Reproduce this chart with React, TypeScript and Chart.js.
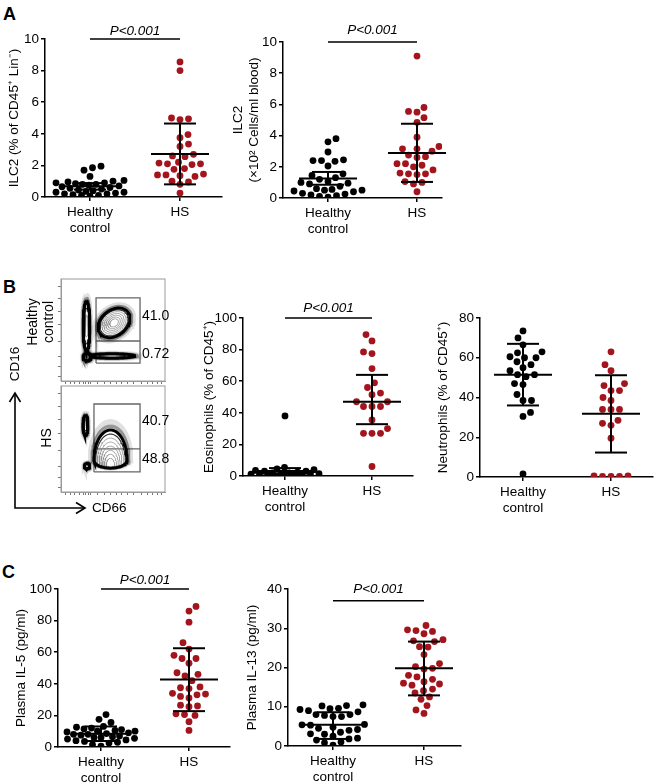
import React, { useEffect, useRef } from 'react';
import { Chart, registerables } from 'chart.js';
Chart.register(...registerables);

const FONT = '"Liberation Sans", Arial, Helvetica, sans-serif';
const RED = '#a3141d';
const FS = 13.5;

const groupLabels = [['Healthy', 'control'], ['HS']];
const pValueText = 'P<0.001';

// ---- A: ILC2 (% of CD45+ Lin-)
const ilc2PctHealthy = [1.95, 1.85, 1.7, 1.3, 1.05, 1.0, 0.95, 0.9, 0.9, 0.85, 0.8, 0.8, 0.75, 0.7, 0.65, 0.6, 0.55, 0.5, 0.45, 0.4, 0.35, 0.3, 0.3, 0.25, 0.2, 0.2, 0.15, 0.1, 0.1, 0.05];
const ilc2PctHS = [8.55, 8.0, 5.0, 4.95, 4.9, 3.95, 3.75, 3.35, 3.2, 2.7, 2.6, 2.55, 2.2, 2.15, 2.1, 2.1, 2.05, 1.8, 1.75, 1.45, 1.4, 1.4, 1.35, 1.3, 1.0, 0.95, 0.8, 0.25];
const ilc2PctMean = [0.68, 2.72];
const ilc2PctLow = [0.47, 0.8];
const ilc2PctHigh = [0.88, 4.65];

// ---- A: ILC2 (x10^2 cells/ml blood)
const ilc2CntHealthy = [3.8, 3.6, 2.95, 2.45, 2.4, 2.4, 2.35, 2.05, 1.55, 1.45, 1.3, 1.2, 1.05, 1.0, 0.95, 0.9, 0.75, 0.6, 0.55, 0.5, 0.5, 0.45, 0.4, 0.3, 0.25, 0.2, 0.15, 0.1, 0.05];
const ilc2CntHS = [9.1, 5.8, 5.55, 5.5, 5.15, 4.85, 3.9, 3.3, 3.15, 3.15, 3.0, 2.75, 2.65, 2.6, 2.2, 2.2, 2.1, 2.0, 1.8, 1.6, 1.55, 1.55, 1.5, 1.05, 1.0, 0.9, 0.4];
const ilc2CntMean = [1.25, 2.88];
const ilc2CntLow = [0.85, 1.03];
const ilc2CntHigh = [1.67, 4.76];

// ---- B: Eosinophils
const eosHealthy = [38, 5.5, 4.5, 4, 3.5, 3, 3, 2.5, 2, 2, 1.5, 1.5, 1.2, 1, 1, 0.8, 0.5, 0.5, 0.3, 0.2];
const eosHS = [89.5, 85.5, 78.5, 77.5, 68, 59, 56, 52.5, 51.5, 47, 47, 44, 44, 44, 35.5, 30, 27, 27, 27, 6];
const eosMean = [3.2, 47];
const eosLow = [1.3, 32.8];
const eosHigh = [5.0, 64];

// ---- B: Neutrophils
const neuHealthy = [73.5, 70, 66.5, 63, 62.5, 60, 60.5, 60, 58, 56.5, 55, 53.5, 51.5, 51.5, 50.5, 47, 46.5, 41.5, 38.5, 38.5, 32.5, 30.5, 1.5];
const neuHS = [63, 56.5, 53.5, 46, 47, 43.5, 43.5, 40, 38.5, 34, 34, 34, 28.5, 26, 27, 19.5, 0.5, 0.3, 0.3, 0.3, 0.6];
const neuMean = [51.5, 31.8];
const neuLow = [36, 12.3];
const neuHigh = [67, 51.2];

// ---- C: Plasma IL-5
const il5Healthy = [20.5, 17.5, 15.5, 13, 12.5, 12, 11.5, 11, 10.5, 10, 10, 9.5, 9, 8.5, 8, 8, 7.5, 7, 6.5, 6, 6, 5.5, 5, 4.5, 4, 3.5, 3, 2.5, 1.5, 0.5];
const il5HS = [89, 86, 79, 66, 62, 58, 56, 56, 53, 47, 46, 45, 42, 38, 37.5, 37, 34, 33.5, 33, 32, 31, 26.5, 26, 25.5, 21, 20, 20.5, 16, 10.5];
const il5Mean = [8.4, 42.7];
const il5Low = [3.8, 22.7];
const il5High = [13, 62.5];

// ---- C: Plasma IL-13
const il13Healthy = [10.5, 10.3, 10.2, 9.6, 9.5, 9.3, 9, 8.7, 8, 8, 7.8, 7.5, 7.5, 4.8, 4.2, 5.5, 5.4, 5.3, 4.5, 4, 3.5, 3.1, 3, 2.5, 2, 1.8, 1.5, 1, 0.8, 0.2];
const il13HS = [30.7, 29.6, 29.4, 29.2, 28.6, 27.1, 26.8, 26.6, 25.3, 25.2, 23.3, 21, 20.2, 19.8, 19.6, 18, 17.6, 17, 16.4, 16, 15.8, 15.5, 14.5, 14.1, 13.5, 12.5, 11.9, 10.3, 9.2, 8.3];
const il13Mean = [5.4, 19.8];
const il13Low = [1.8, 12.9];
const il13High = [8.6, 26.6];

// ---- B: flow cytometry (arbitrary 0-100 display units)
const flowHealthyGate = [33.7, 76, 17.6, 39.2, 81.4]; // xLeft, xRight, yBottom, yDivider, yTop
const flowHSGate = [31.7, 76, 18.9, 40.6, 83];
const flowHealthyPct = ['41.0', '0.72'];
const flowHSPct = ['40.7', '48.8'];
// populations: cx, cy, rx, ryTop, ryBottom, rotationDeg, rings, anchorBottom
const flowHealthyPops = [
  [51, 57, 17, 12.5, 12.5, 40, 7, 0],
  [24.5, 54, 3.2, 24.5, 24.5, 0, 3, 0],
  [25, 23.5, 3.8, 3.8, 3.8, 0, 3, 0],
  [49, 24.5, 22, 2.2, 2.2, 0, 2, 0],
];
const flowHSPops = [
  [47.6, 30, 16, 28.5, 7.5, 0, 8, 1],
  [23.5, 63, 2.4, 9.4, 9.4, 0, 2, 0],
  [25, 24.5, 2.6, 2.6, 2.6, 0, 1, 0],
];
const flowXTicks = [4, 9, 13, 18, 22, 24, 26, 28, 35, 42, 48, 53, 58, 64, 70, 77, 83, 88, 93, 97];
const flowYTicks = [4, 14, 24, 39, 55, 68, 81, 93];

function beeswarm(pys: number[], d: number, maxW: number): number[] {
  const order = pys.map((_, i) => i).sort((a, b) => pys[b] - pys[a]);
  const placed: { x: number; y: number }[] = [];
  const out: number[] = new Array(pys.length).fill(0);
  order.forEach((idx, n) => {
    const py = pys[idx];
    const dir = n % 2 === 0 ? 1 : -1;
    let chosen = 0;
    let found = false;
    let bestScore = -1;
    for (let s = 0; s <= maxW && !found; s += 0.5) {
      for (const sign of [dir, -dir]) {
        const x = sign * s;
        let minD = Infinity;
        for (const p of placed) minD = Math.min(minD, Math.hypot(p.x - x, p.y - py));
        if (minD >= d) {
          chosen = x;
          found = true;
          break;
        }
        if (minD > bestScore + 0.3) {
          bestScore = minD;
          chosen = x;
        }
        if (s === 0) break;
      }
    }
    placed.push({ x: chosen, y: py });
    out[idx] = chosen;
  });
  return out;
}

type DotSpec = {
  healthy: number[]; hs: number[]; mean: number[]; low: number[]; high: number[];
  yMax: number; yStep: number; title: string | string[];
  pLevel?: number; pGap?: number;
  titleX: number; axisX: number; plotTop: number; plotBottom: number; plotRight: number;
  cat1X: number; cat2X: number; xAxisH: number;
};

function DotPlot({ spec }: { spec: DotSpec }) {
  const ref = useRef<HTMLCanvasElement | null>(null);
  const lh = FS * 1.2;
  const canvasLeft = Math.round(spec.titleX - lh / 2);
  const padTop = 32;
  const padRight = 6;
  const canvasTop = spec.plotTop - padTop;
  const yW = spec.axisX - canvasLeft;
  const W = spec.plotRight + padRight - canvasLeft;
  const H = padTop + (spec.plotBottom - spec.plotTop) + spec.xAxisH;
  const unit = spec.cat2X - spec.cat1X;
  const xMin = 1 - (spec.cat1X - spec.axisX) / unit;
  const xMax = 2 + (spec.plotRight - spec.cat2X) / unit;

  useEffect(() => {
    const font = { family: FONT, size: FS };
    const axisGrid = { display: true, drawOnChartArea: false, drawTicks: true, tickLength: 4, color: '#000', lineWidth: 1.5 };
    const axisBorder = { display: true, color: '#000', width: 1.5 };
    const summary = {
      id: 'summary',
      afterDatasetsDraw(chart: any) {
        const { ctx } = chart;
        const x = chart.scales.x;
        const y = chart.scales.y;
        ctx.save();
        ctx.strokeStyle = '#000';
        ctx.lineWidth = 2;
        const seg = (a: number, b: number, c: number, d: number) => {
          ctx.beginPath(); ctx.moveTo(a, b); ctx.lineTo(c, d); ctx.stroke();
        };
        for (let i = 0; i < 2; i++) {
          const cx = x.getPixelForValue(i + 1);
          const ym = y.getPixelForValue(spec.mean[i]);
          const yl = y.getPixelForValue(spec.low[i]);
          const yh = y.getPixelForValue(spec.high[i]);
          seg(cx - 29, ym, cx + 29, ym);
          seg(cx, yl, cx, yh);
          seg(cx - 16, yl, cx + 16, yl);
          seg(cx - 16, yh, cx + 16, yh);
        }
        if (spec.pLevel !== undefined) {
          const yp = y.getPixelForValue(spec.pLevel);
          const x1 = x.getPixelForValue(1);
          const x2 = x.getPixelForValue(2);
          ctx.lineWidth = 1.5;
          seg(x1, yp, x2, yp);
          ctx.font = `italic ${FS}px ${FONT}`;
          ctx.fillStyle = '#000';
          ctx.textAlign = 'center';
          ctx.textBaseline = 'alphabetic';
          ctx.fillText(pValueText, (x1 + x2) / 2, yp - (spec.pGap ?? 5));
        }
        ctx.restore();
      },
    };
    const chart = new Chart(ref.current as HTMLCanvasElement, {
      type: 'scatter',
      data: {
        datasets: [
          { data: spec.healthy.map((v) => ({ x: 1, y: v })), backgroundColor: '#000', borderWidth: 0, pointRadius: 3.4 },
          { data: spec.hs.map((v) => ({ x: 2, y: v })), backgroundColor: RED, borderWidth: 0, pointRadius: 3.4 },
        ],
      },
      options: {
        responsive: false,
        animation: false,
        devicePixelRatio: 1,
        layout: { autoPadding: false, padding: { left: 0, top: padTop, right: padRight, bottom: 0 } },
        plugins: { legend: { display: false }, tooltip: { enabled: false } },
        scales: {
          x: {
            type: 'linear', min: xMin, max: xMax,
            afterBuildTicks: (s: any) => { s.ticks = [{ value: 1 }, { value: 2 }]; },
            afterFit: (s: any) => { s.height = spec.xAxisH; },
            ticks: {
              callback: (v: any) => groupLabels[Math.round(Number(v)) - 1],
              color: '#000', font, padding: 3, maxRotation: 0, minRotation: 0, autoSkip: false,
            },
            grid: axisGrid, border: axisBorder,
          },
          y: {
            type: 'linear', min: 0, max: spec.yMax,
            afterFit: (s: any) => { s.width = yW; },
            ticks: { stepSize: spec.yStep, color: '#000', font, padding: 2 },
            grid: axisGrid, border: axisBorder,
            title: { display: true, text: spec.title, color: '#000', font, padding: { top: 0, bottom: 0 } },
          },
        },
      } as any,
      plugins: [summary],
    });
    const xs: any = chart.scales.x;
    const ys: any = chart.scales.y;
    const ppu = xs.getPixelForValue(2) - xs.getPixelForValue(1);
    [spec.healthy, spec.hs].forEach((vals, i) => {
      const offs = beeswarm(vals.map((v) => ys.getPixelForValue(v)), 8.4, 34);
      (chart.data.datasets[i] as any).data = vals.map((v, j) => ({ x: i + 1 + offs[j] / ppu, y: v }));
    });
    chart.update();
    return () => chart.destroy();
  }, []);

  return (
    <canvas
      ref={ref}
      width={W}
      height={H}
      style={{ position: 'absolute', left: canvasLeft, top: canvasTop, width: W, height: H }}
    />
  );
}

function ringPoints(p: number[], f: number) {
  const [cx, cy, rx, ryT, ryB, rotDeg, , anchor] = p;
  const ccy = anchor ? cy - ryB + ryB * f : cy;
  const rot = (rotDeg * Math.PI) / 180;
  const pts: { x: number; y: number }[] = [];
  for (let i = 0; i <= 72; i++) {
    const t = (i / 72) * 2 * Math.PI;
    const lx = rx * f * Math.cos(t);
    const s = Math.sin(t);
    const ly = (s >= 0 ? ryT : ryB) * f * s;
    pts.push({ x: cx + lx * Math.cos(rot) - ly * Math.sin(rot), y: ccy + lx * Math.sin(rot) + ly * Math.cos(rot) });
  }
  return pts;
}

type FlowSpec = {
  canvasLeft: number; canvasTop: number; W: number; H: number;
  plotLeft: number; plotTop: number; plotRight: number; plotBottom: number;
  gate: number[]; pct: string[]; pctY: number[]; pops: number[][];
  decorate: (ctx: CanvasRenderingContext2D) => void;
};

function FlowPlot({ spec }: { spec: FlowSpec }) {
  const ref = useRef<HTMLCanvasElement | null>(null);
  useEffect(() => {
    const datasets: any[] = [];
    spec.pops.forEach((p) => {
      const rings = p[6];
      datasets.push({ data: ringPoints(p, 1.22), showLine: true, pointRadius: 0, borderColor: 'rgba(0,0,0,0.12)', borderWidth: 5, fill: false });
      datasets.push({ data: ringPoints(p, 1.1), showLine: true, pointRadius: 0, borderColor: 'rgba(0,0,0,0.4)', borderWidth: 3.5, fill: false });
      for (let k = 0; k < rings; k++) {
        const f = 1 - k * (0.85 / Math.max(rings, 1));
        datasets.push({
          data: ringPoints(p, f), showLine: true, pointRadius: 0, fill: false,
          borderColor: k === 0 ? '#000' : k === 1 ? '#333' : '#8f8f8f',
          borderWidth: k === 0 ? 3 : k === 1 ? 1.2 : 0.8,
        });
      }
    });
    const [gx0, gx1, gy0, gym, gy1] = spec.gate;
    datasets.push({
      data: [{ x: gx0, y: gy0 }, { x: gx1, y: gy0 }, { x: gx1, y: gy1 }, { x: gx0, y: gy1 }, { x: gx0, y: gy0 }],
      showLine: true, pointRadius: 0, borderColor: '#666', borderWidth: 1.3, fill: false,
    });
    datasets.push({
      data: [{ x: gx0, y: gym }, { x: gx1, y: gym }],
      showLine: true, pointRadius: 0, borderColor: '#666', borderWidth: 1.3, fill: false,
    });
    const decor = {
      id: 'decor',
      afterDraw(chart: any) {
        const { ctx, chartArea } = chart;
        const x = chart.scales.x;
        const y = chart.scales.y;
        ctx.save();
        ctx.strokeStyle = '#9a9a9a';
        ctx.lineWidth = 1;
        ctx.strokeRect(chartArea.left, chartArea.top, chartArea.right - chartArea.left, chartArea.bottom - chartArea.top);
        ctx.fillStyle = '#000';
        ctx.font = `14px ${FONT}`;
        ctx.textAlign = 'left';
        ctx.textBaseline = 'middle';
        spec.pct.forEach((t, i) => {
          ctx.fillText(t, x.getPixelForValue(spec.gate[1]) + 2, y.getPixelForValue(spec.pctY[i]));
        });
        ctx.translate(-spec.canvasLeft, -spec.canvasTop);
        spec.decorate(ctx);
        ctx.restore();
      },
    };
    const tickGrid = { display: true, drawOnChartArea: false, drawTicks: true, tickLength: 3, color: '#777', lineWidth: 1 };
    const chart = new Chart(ref.current as HTMLCanvasElement, {
      type: 'scatter',
      data: { datasets },
      options: {
        responsive: false,
        animation: false,
        devicePixelRatio: 1,
        layout: {
          autoPadding: false,
          padding: {
            left: spec.plotLeft - spec.canvasLeft - 3,
            top: spec.plotTop - spec.canvasTop,
            right: spec.canvasLeft + spec.W - spec.plotRight,
            bottom: spec.canvasTop + spec.H - spec.plotBottom - 3,
          },
        },
        plugins: { legend: { display: false }, tooltip: { enabled: false } },
        scales: {
          x: {
            type: 'linear', min: 0, max: 100,
            afterBuildTicks: (s: any) => { s.ticks = flowXTicks.map((v) => ({ value: v })); },
            afterFit: (s: any) => { s.height = 3; },
            ticks: { display: false },
            grid: tickGrid,
            border: { display: true, color: '#9a9a9a', width: 1 },
          },
          y: {
            type: 'linear', min: 0, max: 100,
            afterBuildTicks: (s: any) => { s.ticks = flowYTicks.map((v) => ({ value: v })); },
            afterFit: (s: any) => { s.width = 3; },
            ticks: { display: false },
            grid: tickGrid,
            border: { display: true, color: '#9a9a9a', width: 1 },
          },
        },
      } as any,
      plugins: [decor],
    });
    return () => chart.destroy();
  }, []);
  return (
    <canvas
      ref={ref}
      width={spec.W}
      height={spec.H}
      style={{ position: 'absolute', left: spec.canvasLeft, top: spec.canvasTop, width: spec.W, height: spec.H }}
    />
  );
}

function vText(ctx: CanvasRenderingContext2D, text: string, x: number, y: number) {
  ctx.save();
  ctx.translate(x, y);
  ctx.rotate(-Math.PI / 2);
  ctx.textAlign = 'center';
  ctx.textBaseline = 'middle';
  ctx.fillText(text, 0, 0);
  ctx.restore();
}

const healthyFlow: FlowSpec = {
  canvasLeft: 0, canvasTop: 270, W: 200, H: 116,
  plotLeft: 61, plotTop: 279, plotRight: 165, plotBottom: 381,
  gate: flowHealthyGate, pct: flowHealthyPct, pctY: [63.7, 26.5], pops: flowHealthyPops,
  decorate: (ctx) => {
    ctx.fillStyle = '#000';
    ctx.font = `14px ${FONT}`;
    vText(ctx, 'Healthy', 33, 322);
    vText(ctx, 'control', 49, 322);
  },
};

const hsFlow: FlowSpec = {
  canvasLeft: 0, canvasTop: 340, W: 200, H: 185,
  plotLeft: 61, plotTop: 386, plotRight: 165, plotBottom: 492,
  gate: flowHSGate, pct: flowHSPct, pctY: [67, 31], pops: flowHSPops,
  decorate: (ctx) => {
    ctx.fillStyle = '#000';
    ctx.strokeStyle = '#000';
    ctx.font = `14px ${FONT}`;
    vText(ctx, 'HS', 47, 438);
    ctx.font = `13.5px ${FONT}`;
    vText(ctx, 'CD16', 15, 364);
    ctx.textAlign = 'left';
    ctx.textBaseline = 'middle';
    ctx.fillText('CD66', 92, 508);
    ctx.lineWidth = 1.6;
    ctx.beginPath();
    ctx.moveTo(15, 393); ctx.lineTo(15, 508); ctx.lineTo(85, 508);
    ctx.stroke();
    ctx.beginPath();
    ctx.moveTo(9.5, 402); ctx.lineTo(15, 393); ctx.lineTo(20.5, 402);
    ctx.stroke();
    ctx.beginPath();
    ctx.moveTo(76, 502.5); ctx.lineTo(85, 508); ctx.lineTo(76, 513.5);
    ctx.stroke();
  },
};

const panels: DotSpec[] = [
  {
    healthy: ilc2PctHealthy, hs: ilc2PctHS, mean: ilc2PctMean, low: ilc2PctLow, high: ilc2PctHigh,
    yMax: 10, yStep: 2, title: 'ILC2 (% of CD45\u207A Lin\u207B)', pLevel: 10, pGap: 4,
    titleX: 14, axisX: 45, plotTop: 39, plotBottom: 197, plotRight: 222, cat1X: 90, cat2X: 180, xAxisH: 40,
  },
  {
    healthy: ilc2CntHealthy, hs: ilc2CntHS, mean: ilc2CntMean, low: ilc2CntLow, high: ilc2CntHigh,
    yMax: 10, yStep: 2, title: ['ILC2', '(\u00D710\u00B2 Cells/ml blood)'], pLevel: 10, pGap: 8,
    titleX: 238, axisX: 283, plotTop: 42, plotBottom: 198, plotRight: 442, cat1X: 328, cat2X: 417, xAxisH: 40,
  },
  {
    healthy: eosHealthy, hs: eosHS, mean: eosMean, low: eosLow, high: eosHigh,
    yMax: 100, yStep: 20, title: 'Eosinophils (% of CD45\u207A)', pLevel: 100, pGap: 6,
    titleX: 209, axisX: 243, plotTop: 318, plotBottom: 476, plotRight: 413, cat1X: 285, cat2X: 372, xAxisH: 40,
  },
  {
    healthy: neuHealthy, hs: neuHS, mean: neuMean, low: neuLow, high: neuHigh,
    yMax: 80, yStep: 20, title: 'Neutrophils (% of CD45\u207A)',
    titleX: 443, axisX: 480, plotTop: 318, plotBottom: 477, plotRight: 653, cat1X: 523, cat2X: 611, xAxisH: 40,
  },
  {
    healthy: il5Healthy, hs: il5HS, mean: il5Mean, low: il5Low, high: il5High,
    yMax: 100, yStep: 20, title: 'Plasma IL-5 (pg/ml)', pLevel: 100, pGap: 5,
    titleX: 21, axisX: 58, plotTop: 589, plotBottom: 747, plotRight: 230, cat1X: 101, cat2X: 189, xAxisH: 37,
  },
  {
    healthy: il13Healthy, hs: il13HS, mean: il13Mean, low: il13Low, high: il13High,
    yMax: 40, yStep: 10, title: 'Plasma IL-13 (pg/ml)', pLevel: 37, pGap: 8,
    titleX: 252, axisX: 288, plotTop: 589, plotBottom: 746, plotRight: 461, cat1X: 333, cat2X: 424, xAxisH: 37,
  },
];

const letterStyle = (left: number, top: number): React.CSSProperties => ({
  position: 'absolute', left, top, fontFamily: FONT, fontWeight: 'bold', fontSize: 18, lineHeight: '18px', color: '#000',
});

export default function App() {
  return (
    <div style={{ position: 'absolute', left: 0, top: 0, width: 659, height: 784, background: '#fff', overflow: 'hidden' }}>
      <div style={letterStyle(3, 5)}>A</div>
      <div style={letterStyle(3, 278)}>B</div>
      <div style={letterStyle(2, 563)}>C</div>
      {panels.map((p, i) => (
        <DotPlot key={i} spec={p} />
      ))}
      <FlowPlot spec={healthyFlow} />
      <FlowPlot spec={hsFlow} />
    </div>
  );
}
